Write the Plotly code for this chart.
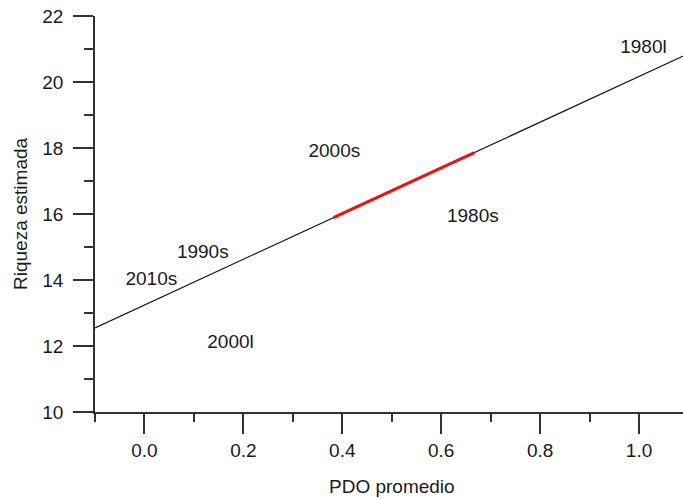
import plotly.graph_objects as go

# Fitted relationship: estimated richness vs. mean PDO
fit_x = [-0.1, 1.1]
fit_y = [12.55, 20.86]

# Highlighted portion of the fit
highlight_x = [0.382, 0.667]
highlight_y = [15.89, 17.86]

# Decade / period labels placed at their (PDO, richness) values
period_labels = ["1980l", "2000s", "1980s", "1990s", "2010s", "2000l"]
period_pdo = [1.009, 0.384, 0.664, 0.118, 0.014, 0.174]
period_richness = [21.01, 17.86, 15.91, 14.80, 13.99, 12.09]

x_ticks = [0.0, 0.2, 0.4, 0.6, 0.8, 1.0]
y_ticks = [10, 12, 14, 16, 18, 20, 22]

FONT = "Liberation Sans, Arial, sans-serif"
TXT = "#1a1a1a"
AX = "#333333"

fig = go.Figure()
fig.add_trace(go.Scatter(x=fit_x, y=fit_y, mode="lines",
                         line=dict(color="#111111", width=1.2),
                         showlegend=False, hoverinfo="skip"))
fig.add_trace(go.Scatter(x=highlight_x, y=highlight_y, mode="lines",
                         line=dict(color="#ee1111", width=3),
                         showlegend=False, hoverinfo="skip"))
fig.add_trace(go.Scatter(x=period_pdo, y=period_richness, mode="text",
                         text=period_labels, textposition="middle center",
                         textfont=dict(family=FONT, size=19, color=TXT),
                         showlegend=False, hoverinfo="skip"))

fig.update_xaxes(
    range=[-0.1, 1.0889], tickvals=x_ticks,
    ticktext=[f"{v:.1f}" for v in x_ticks],
    showgrid=False, zeroline=False,
    showline=True, linecolor=AX, linewidth=1.5,
    ticks="outside", ticklen=20, tickwidth=1.5, tickcolor=AX,
    minor=dict(dtick=0.2, tick0=-0.1, ticks="outside", ticklen=8,
               tickwidth=1.5, tickcolor=AX, showgrid=False),
    tickfont=dict(family=FONT, size=19, color=TXT),
    ticklabelstandoff=0,
)
fig.update_yaxes(
    range=[10, 22], tickvals=y_ticks,
    showgrid=False, zeroline=False,
    showline=True, linecolor=AX, linewidth=1.5,
    ticks="outside", ticklen=20, tickwidth=1.5, tickcolor=AX,
    minor=dict(dtick=2, tick0=11, ticks="outside", ticklen=9,
               tickwidth=1.5, tickcolor=AX, showgrid=False),
    tickfont=dict(family=FONT, size=19, color=TXT),
    ticklabelstandoff=6,
)

# axis titles, placed relative to the plot area
fig.add_annotation(x=0.5, xref="x", y=-0.189, yref="paper",
                   text="PDO promedio", showarrow=False,
                   xanchor="center", yanchor="middle",
                   font=dict(family=FONT, size=19, color=TXT))
fig.add_annotation(x=0, xref="paper", xshift=20 - 95, y=0.5, yref="paper",
                   text="Riqueza estimada", showarrow=False, textangle=-90,
                   xanchor="center", yanchor="middle",
                   font=dict(family=FONT, size=19, color=TXT))

fig.update_layout(
    width=683, height=499,
    margin=dict(l=95, r=0, t=16, b=87),
    paper_bgcolor="white", plot_bgcolor="white",
)

fig.write_html("out.html")
